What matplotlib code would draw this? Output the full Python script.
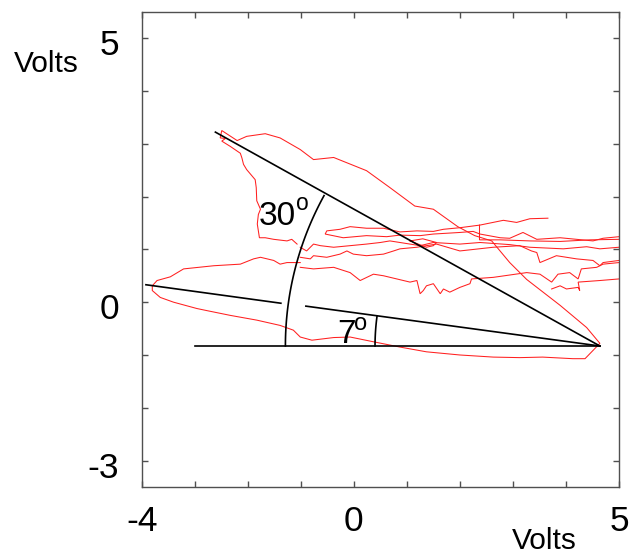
import numpy as np
import matplotlib
matplotlib.use("Agg")
import matplotlib.pyplot as plt
from matplotlib.transforms import ScaledTranslation

plt.rcParams['font.family'] = ['Liberation Sans', 'DejaVu Sans']

# ---- red traces (Volts, Volts) ----
loop_x = [-1.07, -1.17, -1.26, -1.51, -1.67, -1.78, -1.82, -1.80, -1.76, -1.83, -1.84, -1.86,
          -2.02, -2.08, -2.11, -2.14, -2.33, -2.49, -2.42, -2.52, -2.49,
          -2.20, -2.02, -1.67, -1.39, -1.01, -0.76, -0.38, 0.24, 0.68, 1.15, 1.50, 1.96,
          2.28, 2.60, 2.94, 3.26, 3.89, 4.39, 4.64,
          4.36, 4.13, 3.56, 3.13, 2.63, 2.00, 1.37, 0.87, 0.37, -0.07, -0.38, -0.79, -1.01,
          -1.14, -1.39, -1.83, -2.33, -2.77, -2.96, -3.40, -3.65, -3.80, -3.80, -3.71,
          -3.46, -3.21, -2.64, -2.14, -1.89, -1.76, -1.51, -1.39, -1.26, -1.01]
loop_y = [1.10, 1.19, 1.16, 1.19, 1.22, 1.22, 1.48, 1.66, 1.76, 1.92, 2.17, 2.32,
          2.51, 2.61, 2.73, 2.82, 2.95, 3.05, 3.10, 3.11, 3.25,
          3.06, 3.14, 3.19, 3.11, 2.89, 2.70, 2.74, 2.49, 2.17, 1.82, 1.76, 1.43,
          1.26, 1.16, 0.75, 0.43, -0.06, -0.48, -0.78,
          -1.07, -1.07, -1.04, -1.05, -1.04, -1.00, -0.94, -0.85, -0.75, -0.66, -0.67, -0.72, -0.66,
          -0.53, -0.44, -0.34, -0.25, -0.16, -0.12, 0.00, 0.09, 0.22, 0.31, 0.41,
          0.48, 0.63, 0.69, 0.72, 0.82, 0.85, 0.79, 0.72, 0.75, 0.75]

bundle_a_x = [3.66, 3.32, 3.07, 2.82, 2.38, 2.00, 1.69, 1.50, 1.19, 0.87, 0.56, 0.24, -0.07,
              -0.26, -0.51, -0.54, -0.20, 0.24, 0.62, 0.87, 1.25, 1.50, 2.00, 2.25, 2.38,
              2.76, 2.94, 3.19, 3.45, 3.89, 4.20, 4.51, 4.70, 5.00]
bundle_a_y = [1.59, 1.58, 1.51, 1.55, 1.46, 1.41, 1.38, 1.34, 1.35, 1.33, 1.40, 1.40, 1.43,
              1.38, 1.35, 1.29, 1.22, 1.26, 1.24, 1.27, 1.26, 1.29, 1.32, 1.34, 1.29,
              1.22, 1.21, 1.32, 1.19, 1.22, 1.19, 1.16, 1.21, 1.24]

bundle_b_x = [2.37, 2.37, 2.76, 3.32, 3.89, 4.45, 5.00]
bundle_b_y = [1.46, 1.18, 1.18, 1.16, 1.15, 1.18, 1.19]

bundle_c_x = [-1.01, -0.89, -0.76, -0.63, -0.38, -0.07, 0.24, 0.50, 0.68, 0.87, 1.06, 1.25,
              1.50, 2.00, 2.38, 2.94, 3.32, 3.95, 4.39, 4.64, 5.00]
bundle_c_y = [1.04, 0.97, 1.10, 1.07, 1.04, 1.07, 1.10, 1.13, 1.16, 1.13, 1.10, 1.07,
              1.13, 1.10, 1.13, 1.09, 1.04, 1.01, 1.05, 1.01, 1.04]

bundle_d_x = [-1.01, -0.82, -0.76, -0.51, -0.26, -0.13, -0.01, 0.24, 0.56, 0.75, 0.87, 1.19,
              1.37, 1.56, 2.00, 2.63, 3.13, 3.35, 3.45, 3.51, 3.82, 4.20, 4.51, 4.64, 4.70, 5.00]
bundle_d_y = [0.85, 0.82, 0.88, 0.85, 0.91, 0.97, 0.91, 0.88, 0.91, 0.97, 1.01, 1.04,
              1.07, 1.10, 0.97, 1.04, 1.07, 0.97, 0.94, 0.75, 0.88, 0.82, 0.79, 0.69, 0.75, 0.79]

bundle_e_x = [-1.01, -0.76, -0.38, -0.07, 0.12, 0.37, 0.56, 0.81, 1.06, 1.19, 1.25, 1.31,
              1.37, 1.50, 1.63, 1.69, 1.81, 2.00, 2.19, 2.22, 2.63, 3.26, 3.51, 3.73, 3.85,
              4.07, 4.23, 4.29, 4.58, 4.70, 5.00]
bundle_e_y = [0.66, 0.63, 0.66, 0.56, 0.41, 0.53, 0.50, 0.44, 0.38, 0.41, 0.16, 0.22,
              0.31, 0.35, 0.16, 0.25, 0.19, 0.28, 0.35, 0.44, 0.47, 0.56, 0.53, 0.38, 0.53,
              0.56, 0.44, 0.63, 0.66, 0.72, 0.75]

bundle_f_x = [3.73, 3.89, 4.01, 4.23, 4.26, 4.23, 4.64, 5.00]
bundle_f_y = [0.25, 0.31, 0.25, 0.28, 0.22, 0.38, 0.41, 0.44]

clump_x = [1.06, 1.37, 1.50, 1.56, 1.30, 1.06]
clump_y = [1.16, 1.04, 1.07, 1.13, 1.20, 1.16]

red_traces = [(loop_x, loop_y), (bundle_a_x, bundle_a_y), (bundle_b_x, bundle_b_y),
              (bundle_c_x, bundle_c_y), (bundle_d_x, bundle_d_y), (bundle_e_x, bundle_e_y),
              (bundle_f_x, bundle_f_y), (clump_x, clump_y)]

# ---- black construction lines ----
vertex = (4.64, -0.83)
base_x = [-3.0, 4.64]
base_y = [-0.83, -0.83]
line30_x = [-2.61, 4.64]
line30_y = [3.22, -0.83]
line7a_x = [-3.92, -1.375]
line7a_y = [0.33, -0.02]
line7b_x = [-0.904, 4.64]
line7b_y = [-0.075, -0.83]
arc30_radius, arc30_start, arc30_end = 5.93, 151.3, 180.0
arc7_radius, arc7_start, arc7_end = 4.24, 172.3, 180.0

angle_labels = ['30', '7']
angle_label_pos = [(-1.79, 1.46), (-0.31, -0.78)]

x_ticks = list(range(-4, 6))
x_tick_labels = ['-4', '', '', '', '0', '', '', '', '', '5']
y_ticks = list(range(-3, 6))
y_tick_labels = ['-3', '', '', '0', '', '', '', '', '5']

fig = plt.figure(figsize=(6.3, 5.55), dpi=100)
ax = fig.add_axes([0.2249, 0.1225, 0.7576, 0.8564])

for tx, ty in red_traces:
    ax.plot(tx, ty, color='#ff2020', lw=0.75, solid_joinstyle='miter')

blk = dict(color='black', lw=1.2)
ax.plot(base_x, base_y, **blk)
ax.plot(line30_x, line30_y, **blk)
ax.plot(line7a_x, line7a_y, **blk)
ax.plot(line7b_x, line7b_y, **blk)
for r, a0, a1 in [(arc30_radius, arc30_start, arc30_end), (arc7_radius, arc7_start, arc7_end)]:
    t = np.radians(np.linspace(a0, a1, 60))
    ax.plot(vertex[0] + r * np.cos(t), vertex[1] + r * np.sin(t), **blk)

# angle labels with a raised small "o" as degree sign
deg_offsets = [(26.5, 10.8, 16.5), (12.2, 9.4, 17)]
for lab, (lx, ly), (dx, dy, fs) in zip(angle_labels, angle_label_pos, deg_offsets):
    ax.text(lx, ly, lab, fontsize=24, ha='left', va='baseline')
    ax.annotate('o', xy=(lx, ly), xytext=(dx, dy), textcoords='offset points',
                fontsize=fs, ha='left', va='baseline')

ax.set_xlim(-4, 5)
ax.set_ylim(-3.5, 5.5)
ax.set_xticks(x_ticks)
ax.set_xticklabels(x_tick_labels)
ax.set_yticks(y_ticks)
ax.set_yticklabels(y_tick_labels)
spine_col = '#505050'
for s in ax.spines.values():
    s.set_color(spine_col)
    s.set_linewidth(1.0)
ax.tick_params(direction='in', length=4, width=1.0, color=spine_col,
               top=True, right=True, labelsize=25.5)
ax.tick_params(axis='x', pad=13)
ax.tick_params(axis='y', pad=16.5)
shift = ScaledTranslation(0, -4 / 100, fig.dpi_scale_trans)
for lbl in ax.get_yticklabels():
    lbl.set_transform(lbl.get_transform() + shift)

fig.text(512 / 630, 6 / 555, 'Volts', fontsize=21.5, ha='left', va='baseline')
fig.text(14 / 630, 1 - 72 / 555, 'Volts', fontsize=21.5, ha='left', va='baseline')

fig.savefig('out.png', dpi=100)
